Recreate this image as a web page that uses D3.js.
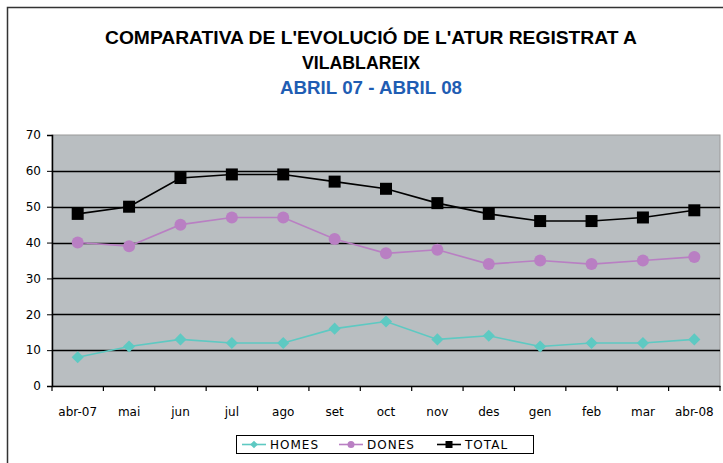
<!DOCTYPE html>
<html><head><meta charset="utf-8">
<script src="https://cdn.jsdelivr.net/npm/d3@7"></script>
<style>body{margin:0;background:#fff}svg{display:block}</style>
</head><body><svg id="c" width="723" height="463"></svg>
<script>
const categories = ["abr-07","mai","jun","jul","ago","set","oct","nov","des","gen","feb","mar","abr-08"];
const homes = [8,11,13,12,12,16,18,13,14,11,12,12,13];
const dones = [40,39,45,47,47,41,37,38,34,35,34,35,36];
const total = [48,50,58,59,59,57,55,51,48,46,46,47,49];
const yTicks = [0,10,20,30,40,50,60,70];
const seriesNames = ["HOMES","DONES","TOTAL"];
const colors = {HOMES:"#5ec9c2", DONES:"#b97fc3", TOTAL:"#000000"};

const svg = d3.select("#c");
const W = 723, H = 463;
const m = {l:52, r:720, t:135, b:386};

// outer border
svg.append("rect").attr("x",7.5).attr("y",7.5).attr("width",W+10).attr("height",H+10)
  .attr("fill","#fff").attr("stroke","#333").attr("stroke-width",1.5);

// titles
const tf = "'Liberation Sans Narrow','Arial Narrow','Liberation Sans',Arial,sans-serif";
svg.append("text").attr("x",371).attr("y",44).attr("text-anchor","middle")
  .attr("font-family",tf).attr("font-weight","bold").attr("font-size",18)
  .attr("textLength",532).attr("lengthAdjust","spacingAndGlyphs")
  .text("COMPARATIVA DE L'EVOLUCIÓ DE L'ATUR REGISTRAT A");
svg.append("text").attr("x",361).attr("y",69).attr("text-anchor","middle")
  .attr("font-family",tf).attr("font-weight","bold").attr("font-size",18)
  .attr("textLength",118).attr("lengthAdjust","spacingAndGlyphs")
  .text("VILABLAREIX");
svg.append("text").attr("x",371).attr("y",94).attr("text-anchor","middle")
  .attr("font-family",tf).attr("font-weight","bold").attr("font-size",18).attr("fill","#1f5db3")
  .attr("textLength",182).attr("lengthAdjust","spacingAndGlyphs")
  .text("ABRIL 07 - ABRIL 08");

const x = d3.scaleBand().domain(categories).range([m.l,m.r]);
const y = d3.scaleLinear().domain([0,70]).range([m.b,m.t]);

// plot area
svg.append("rect").attr("x",m.l).attr("y",m.t).attr("width",m.r-m.l).attr("height",m.b-m.t)
  .attr("fill","#b9bec1").attr("stroke","#9a9a9a").attr("stroke-width",1);

// gridlines
svg.append("g").selectAll("line").data(yTicks.filter(d=>d>0 && d<70)).join("line")
  .attr("x1",m.l).attr("x2",m.r).attr("y1",d=>Math.round(y(d))+0.5).attr("y2",d=>Math.round(y(d))+0.5)
  .attr("stroke","#000").attr("stroke-width",1.3);

const af = "Tahoma,'DejaVu Sans',Verdana,sans-serif";
// y axis
const ya = svg.append("g").attr("transform",`translate(${m.l},0)`)
  .call(d3.axisLeft(y).tickValues(yTicks).tickSize(5).tickPadding(6));
ya.select(".domain").attr("stroke","#000").attr("stroke-width",1.5);
ya.selectAll("text").attr("font-family",af).attr("font-size",12).attr("fill","#000");

// x axis
const xa = svg.append("g").attr("transform",`translate(0,${m.b})`)
  .call(d3.axisBottom(x).tickSize(0).tickPadding(21));
xa.select(".domain").attr("stroke","#000").attr("stroke-width",1.5);
xa.selectAll("text").attr("font-family",af).attr("font-size",12).attr("fill","#000");
// ticks at band boundaries
const bounds = categories.map(c=>x(c)).concat([m.r]);
svg.append("g").selectAll("line").data(bounds).join("line")
  .attr("x1",d=>d).attr("x2",d=>d).attr("y1",m.b).attr("y2",m.b+5)
  .attr("stroke","#000").attr("stroke-width",1.2);

const cx = c => x(c) + x.bandwidth()/2;
const data = {HOMES:homes, DONES:dones, TOTAL:total};
const line = d3.line().x((d,i)=>cx(categories[i])).y(d=>y(d));

function marker(g, name, px, py, s) {
  if (name==="HOMES") {
    g.append("path").attr("d",`M${px},${py-s*0.55}L${px+s*0.55},${py}L${px},${py+s*0.55}L${px-s*0.55},${py}Z`).attr("fill",colors[name]);
  } else if (name==="DONES") {
    g.append("circle").attr("cx",px).attr("cy",py).attr("r",s*0.5).attr("fill",colors[name]);
  } else {
    g.append("rect").attr("x",px-s/2).attr("y",py-s/2).attr("width",s).attr("height",s).attr("fill",colors[name]);
  }
}

["HOMES","DONES","TOTAL"].forEach(name=>{
  const g = svg.append("g");
  g.append("path").datum(data[name]).attr("d",line).attr("fill","none")
    .attr("stroke",colors[name]).attr("stroke-width",1.6);
  data[name].forEach((v,i)=>marker(g,name,cx(categories[i]),y(v),name==="HOMES"?11:12));
});

// legend
const lg = svg.append("g");
lg.append("rect").attr("x",236.5).attr("y",435.5).attr("width",297).attr("height",18)
  .attr("fill","#fff").attr("stroke","#000").attr("stroke-width",1);
const lx = [242, 339, 437];
seriesNames.forEach((n,i)=>{
  const x0 = lx[i], yy = 444.5;
  lg.append("line").attr("x1",x0).attr("x2",x0+24).attr("y1",yy).attr("y2",yy)
    .attr("stroke",colors[n]).attr("stroke-width",1.6);
  marker(lg,n,x0+12,yy,7);
  lg.append("text").attr("x",x0+28).attr("y",yy+4.5).attr("font-family",af).attr("font-size",12)
    .attr("letter-spacing",1).text(n);
});
</script></body></html>
